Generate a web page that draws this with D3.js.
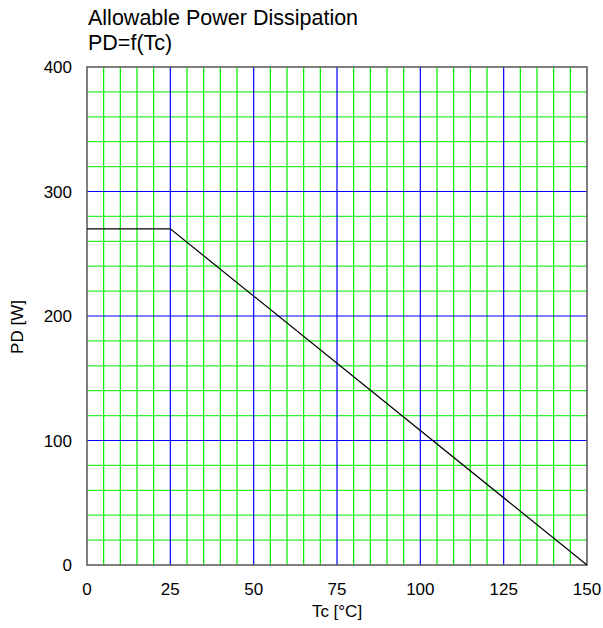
<!DOCTYPE html>
<html>
<head>
<meta charset="utf-8">
<script src="https://cdn.jsdelivr.net/npm/d3@7"></script>
<style>
  body { margin: 0; background: #fff; }
  text { font-family: Arial, "Liberation Sans", sans-serif; fill: #000; }
</style>
</head>
<body>
<svg id="chart" width="603" height="628"></svg>
<script>
// 数据
const tcValues = [0, 25, 150];
const pdValues = [270, 270, 0];
const xTicks = [0, 25, 50, 75, 100, 125, 150];
const yTicks = [0, 100, 200, 300, 400];
const xMinorStep = 5;
const yMinorStep = 20;

const svg = d3.select("#chart");
const margin = { left: 87, right: 16, top: 67, bottom: 63 };
const width = 603 - margin.left - margin.right;
const height = 628 - margin.top - margin.bottom;

const x = d3.scaleLinear().domain([0, 150]).range([0, width]);
const y = d3.scaleLinear().domain([0, 400]).range([height, 0]);

const g = svg.append("g").attr("transform", `translate(${margin.left},${margin.top})`);

// 细网格
const xMinor = d3.range(xMinorStep, 150, xMinorStep).filter(v => v % 25 !== 0);
const yMinor = d3.range(yMinorStep, 400, yMinorStep).filter(v => v % 100 !== 0);

g.selectAll(".vminor").data(xMinor).enter().append("line")
  .attr("x1", d => x(d)).attr("x2", d => x(d))
  .attr("y1", 0).attr("y2", height)
  .attr("stroke", "#00ee00").attr("stroke-width", 1.2);

g.selectAll(".hminor").data(yMinor).enter().append("line")
  .attr("x1", 0).attr("x2", width)
  .attr("y1", d => y(d)).attr("y2", d => y(d))
  .attr("stroke", "#33ee33").attr("stroke-width", 1.2);

// 主网格
g.selectAll(".vmajor").data(xTicks.slice(1, -1)).enter().append("line")
  .attr("x1", d => x(d)).attr("x2", d => x(d))
  .attr("y1", 0).attr("y2", height)
  .attr("stroke", "#0000ff").attr("stroke-width", 1.2);

g.selectAll(".hmajor").data(yTicks.slice(1, -1)).enter().append("line")
  .attr("x1", 0).attr("x2", width)
  .attr("y1", d => y(d)).attr("y2", d => y(d))
  .attr("stroke", "#0000ff").attr("stroke-width", 1.2);

// 边框
g.append("rect")
  .attr("x", 0).attr("y", 0).attr("width", width).attr("height", height)
  .attr("fill", "none").attr("stroke", "#555").attr("stroke-width", 1.5);

// 曲线
const line = d3.line().x((d, i) => x(tcValues[i])).y(d => y(d));
g.append("path")
  .datum(pdValues)
  .attr("d", line)
  .attr("fill", "none")
  .attr("stroke", "#000")
  .attr("stroke-width", 1.2);

// 坐标轴标签
g.selectAll(".xt").data(xTicks).enter().append("text")
  .attr("x", d => x(d)).attr("y", height + 30)
  .attr("text-anchor", "middle").style("font-size", "17px")
  .text(d => d);

g.selectAll(".yt").data(yTicks).enter().append("text")
  .attr("x", -15).attr("y", d => y(d) + 6)
  .attr("text-anchor", "end").style("font-size", "17px")
  .text(d => d);

g.append("text")
  .attr("x", width / 2).attr("y", height + 52)
  .attr("text-anchor", "middle").style("font-size", "17px")
  .text("Tc [°C]");

g.append("text")
  .attr("transform", `translate(-64,${height / 2 + 11}) rotate(-90)`)
  .attr("text-anchor", "middle").style("font-size", "17px")
  .text("PD [W]");

// 标题
svg.append("text").attr("x", 88).attr("y", 25).style("font-size", "21.5px").text("Allowable Power Dissipation");
svg.append("text").attr("x", 88).attr("y", 50).style("font-size", "21.5px").text("PD=f(Tc)");
</script>
</body>
</html>
